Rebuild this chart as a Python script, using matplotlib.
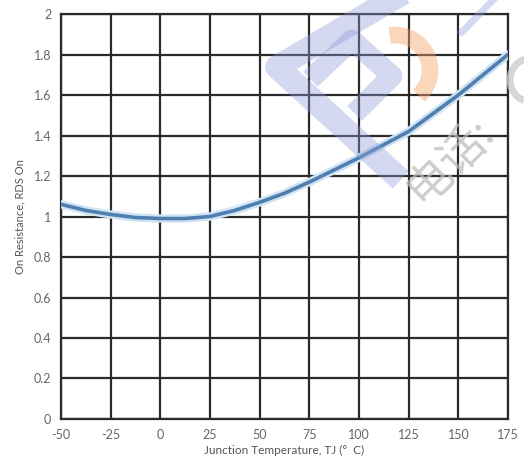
import matplotlib
matplotlib.use('Agg')
import matplotlib.pyplot as plt
from matplotlib.lines import Line2D
from matplotlib.patches import Arc

plt.rcParams['font.family'] = ['Lato', 'Noto Sans CJK SC', 'DejaVu Sans']

# values
temp_c = [-50, -37.5, -25, -12.5, 0, 12.5, 25, 37.5, 50, 62.5, 75, 87.5,
          100, 112.5, 125, 137.5, 150, 162.5, 175]
rds_norm = [1.06, 1.03, 1.01, 0.995, 0.99, 0.99, 1.0, 1.03, 1.07, 1.115, 1.17, 1.23,
            1.29, 1.355, 1.42, 1.51, 1.6, 1.70, 1.8]
x_ticks = [-50, -25, 0, 25, 50, 75, 100, 125, 150, 175]
y_ticks = [0, 0.2, 0.4, 0.6, 0.8, 1, 1.2, 1.4, 1.6, 1.8, 2]

W, H = 524, 475
fig = plt.figure(figsize=(W / 100, H / 100), dpi=100)
ax = fig.add_axes([0.1164, 0.1179, 0.8531, 0.8526])

ax.plot(temp_c, rds_norm, color='#cfe3f3', lw=6, solid_capstyle='round', zorder=3)
ax.plot(temp_c, rds_norm, color='#4f7fb0', lw=2.6, zorder=4)

ax.set_xlim(-50, 175)
ax.set_ylim(0, 2)
ax.set_xticks(x_ticks)
ax.set_yticks(y_ticks)
ax.set_xticklabels([str(t) for t in x_ticks])
ax.set_yticklabels(['0', '0.2', '0.4', '0.6', '0.8', '1', '1.2', '1.4', '1.6', '1.8', '2'])
ax.grid(True, color='#2a2a2a', lw=1.6)
ax.set_axisbelow(True)
for s in ax.spines.values():
    s.set_color('#2a2a2a')
    s.set_linewidth(1.6)
ax.tick_params(length=0, colors='#666666', labelsize=9, pad=7)

ax.set_xlabel('Junction Temperature, TJ (°  C)', fontsize=8.5, color='#555555', labelpad=3)
ax.set_ylabel('On Resistance, RDS On', fontsize=8, color='#555555', labelpad=6)


# watermark (rough logo + text), in pixel coords of the image
def px(pts):
    return [p[0] / W for p in pts], [1 - p[1] / H for p in pts]


wm_blue = '#8f9ad8'
for pts, lw in [([(400, -5), (277, 67), (392, 172)], 17),
                ([(318, 72), (352, 40), (392, 76), (362, 106)], 15),
                ([(462, 32), (495, -2)], 5)]:
    xs, ys = px(pts)
    fig.add_artist(Line2D(xs, ys, transform=fig.transFigure, color=wm_blue,
                          lw=lw, alpha=0.38, solid_joinstyle='round'))
fig.add_artist(Arc((395 / W, 1 - 70 / H), 70 / W, 70 / H, theta1=-50, theta2=98,
                   transform=fig.transFigure, color='#f6a46a', lw=12, alpha=0.45))
fig.add_artist(Arc((532 / W, 1 - 80 / H), 44 / W, 44 / H, theta1=100, theta2=250,
                   transform=fig.transFigure, color='#cccccc', lw=5, alpha=0.8))
fig.text(450 / W, 1 - 160 / H, '电话:', fontsize=33, color='#bdbdbd', rotation=45,
         ha='center', va='center', alpha=0.75)

fig.savefig('out.png', dpi=100, facecolor='white')
